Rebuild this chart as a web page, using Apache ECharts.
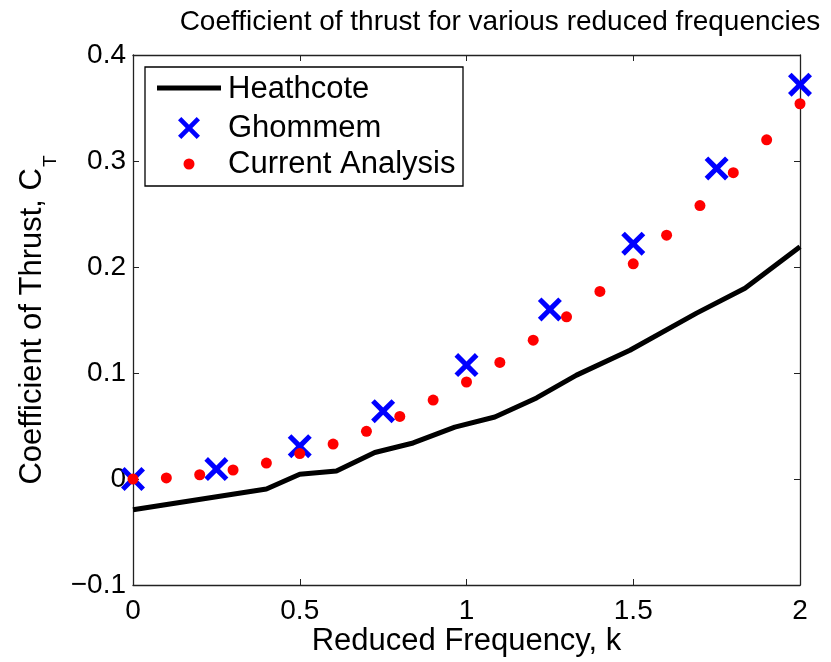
<!DOCTYPE html>
<html>
<head>
<meta charset="utf-8">
<script src="https://cdn.jsdelivr.net/npm/echarts@6/dist/echarts.min.js"></script>
<style>html,body{margin:0;padding:0;background:#fff;}#chart{width:831px;height:662px;}</style>
</head>
<body>
<div id="chart"></div>
<script>
var FONT = "'Liberation Sans', Arial, Helvetica, sans-serif";
var xTicks = [0, 0.5, 1, 1.5, 2];
var yTicks = [-0.1, 0, 0.1, 0.2, 0.3, 0.4];

var heathcoteK = [0, 0.4, 0.5, 0.61, 0.725, 0.84, 0.965, 1.085, 1.21, 1.33, 1.49, 1.69, 1.835, 2.0];
var heathcoteCT = [-0.029, -0.0095, 0.0045, 0.0075, 0.025, 0.034, 0.049, 0.0585, 0.0765, 0.098, 0.1215, 0.1565, 0.180, 0.219];

var ghommemK = [0, 0.25, 0.5, 0.75, 1.0, 1.25, 1.5, 1.75, 2.0];
var ghommemCT = [0, 0.0094, 0.031, 0.064, 0.1075, 0.160, 0.222, 0.293, 0.372];

var currentK = [0, 0.1, 0.2, 0.3, 0.4, 0.5, 0.6, 0.7, 0.8, 0.9, 1.0, 1.1, 1.2, 1.3, 1.4, 1.5, 1.6, 1.7, 1.8, 1.9, 2.0];
var currentCT = [0, 0.001, 0.004, 0.0085, 0.015, 0.024, 0.033, 0.045, 0.059, 0.0745, 0.0915, 0.110, 0.131, 0.153, 0.177, 0.203, 0.230, 0.258, 0.289, 0.320, 0.354];

var seriesNames = ['Heathcote', 'Ghommem', 'Current Analysis'];

function pairs(a, b) { return a.map(function (v, i) { return [v, b[i]]; }); }

var XPATH = 'path://M0,15L15,0L50,35L85,0L100,15L65,50L100,85L85,100L50,65L15,100L0,85L35,50Z';
var XUNIT = [[0,15],[15,0],[50,35],[85,0],[100,15],[65,50],[100,85],[85,100],[50,65],[15,100],[0,85],[35,50]];
function xIconPoints(cx, cy, size) {
  return XUNIT.map(function (p) { return [cx + (p[0] - 50) * size / 100, cy + (p[1] - 50) * size / 100]; });
}

var chart = echarts.init(document.getElementById('chart'), null, {renderer: 'canvas'});

var axisCommon = {
  axisLine: {show: true, onZero: false, lineStyle: {color: '#222', width: 1.3}},
  axisTick: {show: true, inside: true, length: 6, lineStyle: {color: '#222', width: 1}},
  splitLine: {show: false}
};

var legendText = {fontFamily: FONT, fontSize: 31, fill: '#000', verticalAlign: 'middle', align: 'left'};

var option = {
  backgroundColor: '#fff',
  animation: false,
  title: {
    text: 'Coefficient of thrust for various reduced frequencies',
    left: 495, top: 3, textAlign: 'center',
    textStyle: {fontFamily: FONT, fontWeight: 'normal', fontSize: 28, color: '#000'}
  },
  grid: {left: 133, right: 31, top: 55, bottom: 77, containLabel: false, outerBoundsMode: 'none'},
  graphic: {elements: [
    {type: 'rect', x: 0, y: 0, z: 100,
      shape: {x: 145, y: 67, width: 318, height: 119},
      style: {fill: '#fff', stroke: '#000', lineWidth: 1.3}},
    {type: 'line', x: 0, y: 0, z: 101, shape: {x1: 157, y1: 88, x2: 221, y2: 88},
      style: {stroke: '#000', lineWidth: 5}},
    {type: 'polygon', x: 0, y: 0, z: 101, shape: {points: xIconPoints(189, 128, 22)},
      style: {fill: '#0000ff'}},
    {type: 'circle', x: 0, y: 0, z: 101, shape: {cx: 189, cy: 164, r: 5.5}, style: {fill: '#ff0000'}},
    {type: 'text', x: 228, y: 89, z: 101, style: Object.assign({text: seriesNames[0]}, legendText)},
    {type: 'text', x: 228, y: 128, z: 101, style: Object.assign({text: seriesNames[1]}, legendText)},
    {type: 'text', x: 228, y: 164, z: 101, style: Object.assign({text: seriesNames[2]}, legendText)}
  ]},
  xAxis: [
    Object.assign({}, axisCommon, {
      type: 'value', min: xTicks[0], max: xTicks[xTicks.length - 1], interval: 0.5,
      position: 'bottom', nameMoveOverlap: false,
      name: 'Reduced Frequency, k', nameLocation: 'middle', nameGap: 41,
      nameTextStyle: {fontFamily: FONT, fontSize: 31, color: '#000'},
      axisLabel: {fontFamily: FONT, fontSize: 28, color: '#000', margin: 12}
    }),
    Object.assign({}, axisCommon, {
      type: 'value', min: xTicks[0], max: xTicks[xTicks.length - 1], interval: 0.5,
      position: 'top', axisLabel: {show: false}
    })
  ],
  yAxis: [
    Object.assign({}, axisCommon, {
      type: 'value', min: yTicks[0], max: yTicks[yTicks.length - 1], interval: 0.1,
      position: 'left', nameMoveOverlap: false,
      name: '{main|Coefficient of Thrust, C}{sub|T}', nameLocation: 'middle', nameGap: 85,
      nameTextStyle: {fontFamily: FONT, fontSize: 31, color: '#000',
        rich: {
          main: {fontFamily: FONT, fontSize: 31, lineHeight: 31, color: '#000', verticalAlign: 'top'},
          sub: {fontFamily: FONT, fontSize: 19, lineHeight: 19, color: '#000', verticalAlign: 'top', padding: [24, 0, 0, 1]}
        }},
      axisLabel: {fontFamily: FONT, fontSize: 28, color: '#000', margin: 7,
        formatter: function (v) { var r = Math.round(v * 10) / 10; return r < 0 ? '\u2212' + String(-r) : String(r); }}
    }),
    Object.assign({}, axisCommon, {
      type: 'value', min: yTicks[0], max: yTicks[yTicks.length - 1], interval: 0.1,
      position: 'right', axisLabel: {show: false}
    })
  ],
  series: [
    {
      name: seriesNames[0], type: 'line', xAxisIndex: 0, yAxisIndex: 0,
      data: pairs(heathcoteK, heathcoteCT),
      symbol: 'none', lineStyle: {color: '#000', width: 5},
      itemStyle: {color: '#000'}, z: 2
    },
    {
      name: seriesNames[1], type: 'scatter', xAxisIndex: 0, yAxisIndex: 0,
      data: pairs(ghommemK, ghommemCT),
      symbol: XPATH, symbolSize: 24, clip: false,
      itemStyle: {color: '#0000ff', opacity: 1}, z: 3
    },
    {
      name: seriesNames[2], type: 'scatter', xAxisIndex: 0, yAxisIndex: 0,
      data: pairs(currentK, currentCT),
      symbol: 'circle', symbolSize: 11, clip: false,
      itemStyle: {color: '#ff0000', opacity: 1}, z: 4
    }
  ]
};
chart.setOption(option);
</script>
</body>
</html>
